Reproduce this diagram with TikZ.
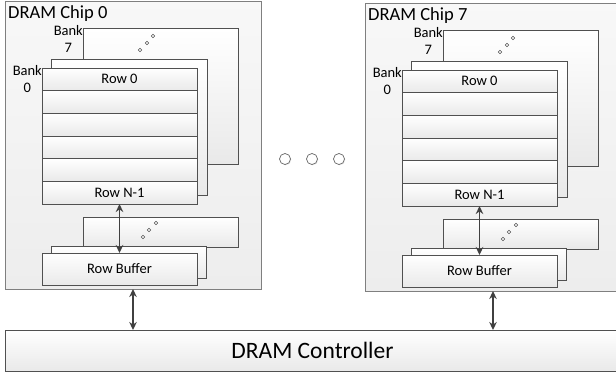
\documentclass[tikz,border=0pt]{standalone}
\usepackage{fontspec}
\setmainfont{Carlito}
\usetikzlibrary{arrows.meta,shadows}
\definecolor{edgec}{HTML}{505050}
\definecolor{chipedge}{HTML}{7F7F7F}
\definecolor{arrc}{HTML}{404040}
\definecolor{boxbot}{HTML}{E9E9E9}
\definecolor{chipbot}{HTML}{EDEDED}
\begin{document}
\begin{tikzpicture}[x=1pt,y=-1pt,
  chipbox/.style={draw=chipedge, line width=0.8pt, top color=white!60!chipbot, bottom color=chipbot,
    inner sep=0pt, outer sep=0pt, anchor=north west},
  box/.style={draw=edgec, line width=0.8pt, top color=white, bottom color=boxbot,
    inner sep=0pt, outer sep=0pt, anchor=north west,
    drop shadow={shadow xshift=1pt, shadow yshift=-1pt, opacity=0.25}},
  rowbox/.style={draw=edgec, line width=0.8pt, top color=white, bottom color=boxbot,
    inner sep=0pt, outer sep=0pt, anchor=north west, minimum width=155, minimum height=22.67},
  lbl/.style={font=\fontsize{14.5}{17}\selectfont, inner sep=0pt, text=black},
  ttl/.style={font=\fontsize{18.5}{21}\selectfont, inner sep=0pt, anchor=base west},
  tinydot/.style={draw=edgec, line width=0.6pt, fill=white},
  bigdot/.style={draw=gray!80!black, line width=0.7pt, fill=white,
    drop shadow={shadow xshift=0.8pt, shadow yshift=-0.8pt, opacity=0.2}},
  arr/.style={{Stealth[length=8pt,width=7.5pt]}-{Stealth[length=8pt,width=7.5pt]}, line width=1.6pt, draw=arrc}]
\useasboundingbox (0,0) rectangle (616,378);
\clip (0,0) rectangle (616,378);

% DRAM controller
\node[chipbox, draw=edgec, top color=white, bottom color=boxbot, minimum width=615, minimum height=41,
  font=\fontsize{23.5}{26}\selectfont] (ctrl) at (5,330) {DRAM Controller};

\foreach \i/\dx/\dy in {0/0/0, 7/360/2} {
  \begin{scope}[shift={(\dx,\dy)}]
    \node[chipbox, minimum width=256, minimum height=288] (chip\i) at (5,1) {};
    \node[ttl] (title\i) at (8,18) {DRAM Chip \i};
    % bank 7 (back)
    \node[box, minimum width=155, minimum height=136] (bk\i) at (83,28) {};
    \node[lbl, anchor=north east, align=center] (bkl\i) at (83,25) {Bank\\7};
    \draw[tinydot] (140,50) circle[radius=1.7];
    \draw[tinydot] (147,43) circle[radius=1.7];
    \draw[tinydot] (153,36) circle[radius=1.7];
    % middle bank
    \node[box, minimum width=156, minimum height=136] (bm\i) at (51,59) {};
    % bank 0 (front)
    \node[box, minimum width=155, minimum height=136] (bf\i) at (42,68) {};
    \node[lbl, anchor=north east, align=center] (bfl\i) at (42,65) {Bank\\0};
    \foreach \r in {0,...,5} {
      \node[rowbox] (r\i-\r) at (42,{68+22.67*\r}) {};
    }
    \node[lbl] at (r\i-0) {Row 0};
    \node[lbl] at (r\i-5) {Row N-1};
    % row buffers
    \node[box, minimum width=155, minimum height=30] (rbb\i) at (83,217) {};
    \draw[tinydot] (143,237) circle[radius=1.7];
    \draw[tinydot] (149,230) circle[radius=1.7];
    \draw[tinydot] (156,223) circle[radius=1.7];
    \node[box, minimum width=155, minimum height=32] (rbm\i) at (51,246) {};
    \node[box, minimum width=155, minimum height=32, font=\fontsize{14.5}{17}\selectfont] (rb\i) at (42,253) {Row Buffer};
    \draw[arr] (r\i-5.south) -- (rb\i.north);
  \end{scope}
  \draw[arr] (chip\i.south) -- (chip\i.south |- ctrl.north);
}

% ellipsis between chips
\node[bigdot, circle, minimum size=11, inner sep=0pt] (d1) at (285,159) {};
\node[bigdot, circle, minimum size=11, inner sep=0pt] (d2) at (312,159) {};
\node[bigdot, circle, minimum size=11, inner sep=0pt] (d3) at (339,159) {};
\end{tikzpicture}
\end{document}
